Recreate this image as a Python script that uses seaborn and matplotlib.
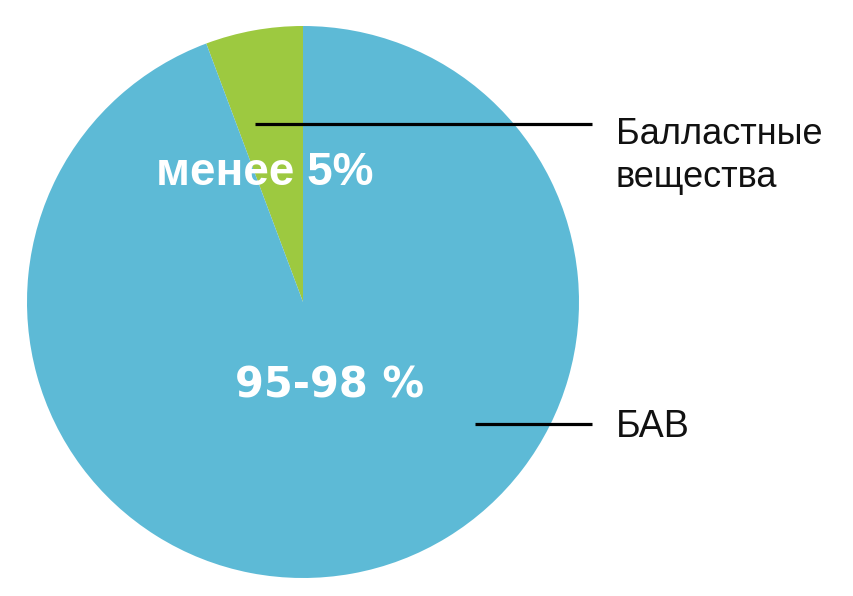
import matplotlib
matplotlib.use("Agg")
from matplotlib import pyplot as plt
import seaborn as sns

# данные
labels = ["Балластные\nвещества", "БАВ"]
values = [5.7, 94.3]
inner_labels = ["менее 5%", "95-98 %"]
colors = ["#9dc940", "#5dbad6"]

sns.set_theme(style="white")
plt.rcParams["font.family"] = ["Liberation Sans", "DejaVu Sans"]

W, H = 854, 596
fig = plt.figure(figsize=(W / 100, H / 100), dpi=100)
ax = fig.add_axes([0, 0, 1, 1])

cx, cy, r = 303, H - 302, 276
ax.pie(values, colors=colors, startangle=90, counterclock=True,
       center=(cx, cy), radius=r, frame=True,
       wedgeprops=dict(linewidth=0))
ax.set_xlim(0, W)
ax.set_ylim(0, H)
ax.axis("off")

# подписи внутри
ax.text(265, H - 185, inner_labels[0], color="white", fontsize=33,
        fontweight="bold", ha="center", va="baseline")
ax.text(330, H - 397, inner_labels[1], color="white", fontsize=30,
        fontweight="bold", ha="center", va="baseline",
        family=["DejaVu Sans"])

# выноски
ax.plot([255, 592], [H - 124, H - 124], color="black", lw=2.3,
        solid_capstyle="butt")
ax.plot([475, 592], [H - 424, H - 424], color="black", lw=2.3,
        solid_capstyle="butt")
ax.text(616, H - 187, labels[0], color="#111111", fontsize=26,
        ha="left", va="baseline", linespacing=1.3)
ax.text(616, H - 437, labels[1], color="#111111", fontsize=27,
        ha="left", va="baseline")

fig.savefig("out.png", dpi=100)
